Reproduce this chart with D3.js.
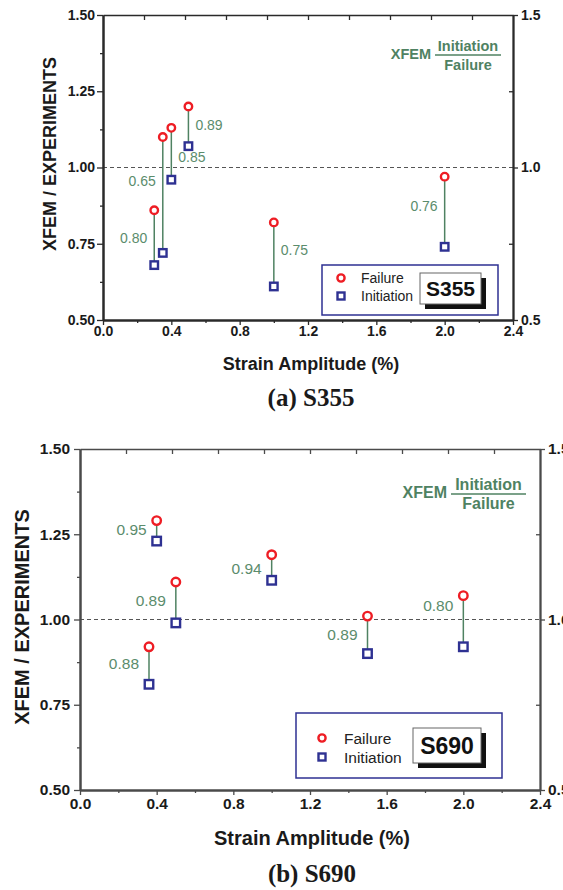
<!DOCTYPE html>
<html>
<head>
<meta charset="utf-8">
<script src="https://cdn.jsdelivr.net/npm/d3@7"></script>
<style>
body { margin: 0; background: #fff; }
text { font-family: "Liberation Sans", Arial, sans-serif; }
text.caption { font-family: "Liberation Serif", "Times New Roman", serif; }
</style>
</head>
<body>
<script>
// values
let strainS355 = [0.3, 0.35, 0.4, 0.5, 1.0, 2.0]
let failureS355 = [0.86, 1.10, 1.13, 1.20, 0.82, 0.97]
let initiationS355 = [0.68, 0.72, 0.96, 1.07, 0.61, 0.74]
let ratioS355 = ["0.80", "0.65", "0.85", "0.89", "0.75", "0.76"]
let ratioAtS355 = [0.77, 0.955, 1.035, 1.14, 0.73, 0.875]
let ratioSideS355 = ["left", "left", "right", "right", "right", "left"]

let strainS690 = [0.36, 0.4, 0.5, 1.0, 1.5, 2.0]
let failureS690 = [0.92, 1.29, 1.11, 1.19, 1.01, 1.07]
let initiationS690 = [0.81, 1.23, 0.99, 1.115, 0.90, 0.92]
let ratioS690 = ["0.88", "0.95", "0.89", "0.94", "0.89", "0.80"]
let ratioAtS690 = [0.87, 1.265, 1.055, 1.15, 0.955, 1.04]
let ratioSideS690 = ["left", "left", "left", "left", "left", "left"]

let xTicks = [0, 0.4, 0.8, 1.2, 1.6, 2.0, 2.4]
let xMinor = [0.2, 0.6, 1.0, 1.4, 1.8, 2.2]
let topTicks = [0.24, 0.48, 0.72, 0.96, 1.2, 1.44, 1.68, 1.92, 2.16]
let yTicks = [0.5, 0.75, 1.0, 1.25, 1.5]
let yMinor = [0.625, 0.875, 1.125, 1.375]
let rightTicks = [0.5, 1.0, 1.5]
let rightMinor = [0.75, 1.25]

let W = 563
let H = 890

let svg = d3.select("body").append("svg")
  .attr("width", W)
  .attr("height", H)

let red = "#ee1d24"
let blue = "#2e3192"
let green = "#4f8262"
let labelGreen = "#5b8c6c"

let drawPanel = (p)=>{
  let g = svg.append("g")
  let x = d3.scaleLinear().domain([0, 2.4]).range([p.left, p.right])
  let y = d3.scaleLinear().domain([0.5, 1.5]).range([p.bottom, p.top])

  // dashed reference line at 1.0
  g.append("line")
    .attr("x1", x(0)).attr("x2", x(2.4))
    .attr("y1", y(1)).attr("y2", y(1))
    .attr("stroke", "#555")
    .attr("stroke-width", 1.2)
    .attr("stroke-dasharray", "4,3")

  let styleAxis = (a, w)=>{
    a.select(".domain").attr("stroke", p.axisColor).attr("stroke-width", w)
    a.selectAll(".tick line").attr("stroke", p.axisColor).attr("stroke-width", 1.3)
    a.selectAll("text")
      .attr("fill", "#1a1a1a")
      .attr("font-weight", "bold")
      .attr("font-size", p.tickFont)
  }

  // top and right frame
  let topAx = g.append("g").attr("transform", "translate(0," + p.top + ")")
    .call(d3.axisTop(x).tickValues(topTicks).tickSize(-5).tickFormat("").tickSizeOuter(0))
  styleAxis(topAx, 1.6)

  let rightMinorAx = g.append("g").attr("transform", "translate(" + p.right + ",0)")
    .call(d3.axisRight(y).tickValues(rightMinor).tickSize(-4).tickFormat("").tickSizeOuter(0))
  styleAxis(rightMinorAx, 1.8)
  let rightAx = g.append("g").attr("transform", "translate(" + p.right + ",0)")
    .call(d3.axisRight(y).tickValues(rightTicks).tickSize(5).tickPadding(3).tickFormat(d3.format(".1f")).tickSizeOuter(0))
  styleAxis(rightAx, 1.8)

  // left axis
  let leftMinorAx = g.append("g").attr("transform", "translate(" + p.left + ",0)")
    .call(d3.axisLeft(y).tickValues(yMinor).tickSize(3).tickFormat("").tickSizeOuter(0))
  styleAxis(leftMinorAx, 2)
  let leftAx = g.append("g").attr("transform", "translate(" + p.left + ",0)")
    .call(d3.axisLeft(y).tickValues(yTicks).tickSize(6).tickPadding(p.tickPad).tickFormat(d3.format(".2f")).tickSizeOuter(0))
  styleAxis(leftAx, 2)

  // bottom axis
  let botMinorAx = g.append("g").attr("transform", "translate(0," + p.bottom + ")")
    .call(d3.axisBottom(x).tickValues(xMinor).tickSize(3).tickFormat("").tickSizeOuter(0))
  styleAxis(botMinorAx, 2)
  let botAx = g.append("g").attr("transform", "translate(0," + p.bottom + ")")
    .call(d3.axisBottom(x).tickValues(xTicks).tickSize(5).tickPadding(p.tickPad - 1).tickFormat(d3.format(".1f")).tickSizeOuter(0))
  styleAxis(botAx, 2)

  // axis titles
  g.append("text")
    .text("Strain Amplitude (%)")
    .attr("x", p.xTitleX)
    .attr("y", p.xTitleY)
    .attr("text-anchor", "middle")
    .attr("font-weight", "bold")
    .attr("font-size", p.titleFont)
    .attr("fill", "#1a1a1a")

  g.append("text")
    .text("XFEM / EXPERIMENTS")
    .attr("transform", "translate(" + p.yTitleX + "," + p.yTitleY + ") rotate(-90)")
    .attr("text-anchor", "middle")
    .attr("font-weight", "bold")
    .attr("font-size", p.titleFont)
    .attr("fill", "#1a1a1a")

  g.append("text")
    .attr("class", "caption")
    .text(p.caption)
    .attr("x", p.xTitleX)
    .attr("y", p.captionY)
    .attr("text-anchor", "middle")
    .attr("font-weight", "bold")
    .attr("font-size", 25)
    .attr("fill", "#1a1a1a")

  let pts = p.strain.map((s, i)=>({s: s, f: p.failure[i], n: p.initiation[i], r: p.ratio[i], at: p.ratioAt[i], side: p.ratioSide[i]}))

  // connecting stems
  g.selectAll(".stem")
    .data(pts)
    .enter()
    .append("line")
    .attr("class", "stem")
    .attr("x1", (d)=>x(d.s)).attr("x2", (d)=>x(d.s))
    .attr("y1", (d)=>y(d.f)).attr("y2", (d)=>y(d.n))
    .attr("stroke", green)
    .attr("stroke-width", 1.5)

  g.selectAll(".ratio")
    .data(pts)
    .enter()
    .append("text")
    .attr("class", "ratio")
    .text((d)=>d.r)
    .attr("x", (d)=>d.side === "left" ? x(d.s) - p.labelGap : x(d.s) + p.labelGap)
    .attr("y", (d)=>y(d.at))
    .attr("dy", "0.36em")
    .attr("text-anchor", (d)=>d.side === "left" ? "end" : "start")
    .attr("font-size", p.ratioFont)
    .attr("fill", labelGreen)

  g.selectAll(".fail")
    .data(pts)
    .enter()
    .append("circle")
    .attr("class", "fail")
    .attr("cx", (d)=>x(d.s))
    .attr("cy", (d)=>y(d.f))
    .attr("r", p.mark / 2)
    .attr("fill", "white")
    .attr("stroke", red)
    .attr("stroke-width", 2.4)

  g.selectAll(".init")
    .data(pts)
    .enter()
    .append("rect")
    .attr("class", "init")
    .attr("x", (d)=>x(d.s) - p.mark / 2)
    .attr("y", (d)=>y(d.n) - p.mark / 2)
    .attr("width", p.mark)
    .attr("height", p.mark)
    .attr("fill", "white")
    .attr("stroke", blue)
    .attr("stroke-width", 2.4)

  // XFEM Initiation / Failure note
  let n = p.note
  g.append("text")
    .text("XFEM")
    .attr("x", n.x).attr("y", n.y)
    .attr("text-anchor", "end")
    .attr("font-weight", "bold")
    .attr("font-size", p.noteFont)
    .attr("fill", green)
  g.append("line")
    .attr("x1", n.x + 4).attr("x2", n.x + 4 + n.w)
    .attr("y1", n.y - 4).attr("y2", n.y - 4)
    .attr("stroke", green)
    .attr("stroke-width", 1.3)
  g.append("text")
    .text("Initiation")
    .attr("x", n.x + 4 + n.w / 2).attr("y", n.y - 8)
    .attr("text-anchor", "middle")
    .attr("font-weight", "bold")
    .attr("font-size", p.noteFont)
    .attr("fill", green)
  g.append("text")
    .text("Failure")
    .attr("x", n.x + 4 + n.w / 2).attr("y", n.y + 10.5)
    .attr("text-anchor", "middle")
    .attr("font-weight", "bold")
    .attr("font-size", p.noteFont)
    .attr("fill", green)

  // legend
  let L = p.legend
  g.append("rect")
    .attr("x", L.x).attr("y", L.y)
    .attr("width", L.w).attr("height", L.h)
    .attr("fill", "white")
    .attr("stroke", blue)
    .attr("stroke-width", 1.5)
  g.append("circle")
    .attr("cx", L.mx).attr("cy", L.y1)
    .attr("r", 3.6)
    .attr("fill", "white")
    .attr("stroke", red)
    .attr("stroke-width", 2.4)
  g.append("rect")
    .attr("x", L.mx - 3.5).attr("y", L.y2 - 3.5)
    .attr("width", 7).attr("height", 7)
    .attr("fill", "white")
    .attr("stroke", blue)
    .attr("stroke-width", 2.4)
  g.append("text")
    .text("Failure")
    .attr("x", L.tx).attr("y", L.y1).attr("dy", "0.36em")
    .attr("font-size", L.font)
    .attr("fill", "#222")
  g.append("text")
    .text("Initiation")
    .attr("x", L.tx).attr("y", L.y2).attr("dy", "0.36em")
    .attr("font-size", L.font)
    .attr("fill", "#222")

  let B = p.badge
  g.append("rect")
    .attr("x", B.x + 5).attr("y", B.y + 5)
    .attr("width", B.w).attr("height", B.h)
    .attr("fill", "#111")
  g.append("rect")
    .attr("x", B.x).attr("y", B.y)
    .attr("width", B.w).attr("height", B.h)
    .attr("fill", "white")
    .attr("stroke", "#666")
    .attr("stroke-width", 1)
  g.append("text")
    .text(p.steel)
    .attr("x", B.x + B.w / 2).attr("y", B.y + B.h / 2).attr("dy", "0.36em")
    .attr("text-anchor", "middle")
    .attr("font-weight", "bold")
    .attr("font-size", B.font)
    .attr("fill", "#111")
}

drawPanel({
  left: 103, right: 513, top: 15, bottom: 320,
  axisColor: "#2a2a2a", tickFont: 14, tickPad: 2,
  titleFont: 18, xTitleX: 311, xTitleY: 370, yTitleX: 56, yTitleY: 154,
  caption: "(a) S355", captionY: 406,
  strain: strainS355, failure: failureS355, initiation: initiationS355,
  ratio: ratioS355, ratioAt: ratioAtS355, ratioSide: ratioSideS355,
  labelGap: 7, ratioFont: 14, mark: 7.5,
  note: {x: 431, y: 59, w: 66}, noteFont: 14.5,
  legend: {x: 322, y: 265, w: 176, h: 50, mx: 341, y1: 278, y2: 296, tx: 361, font: 14},
  badge: {x: 420, y: 273, w: 61, h: 31, font: 21},
  steel: "S355"
})

drawPanel({
  left: 80, right: 540, top: 449, bottom: 790,
  axisColor: "#4a4a4a", tickFont: 15.5, tickPad: 4,
  titleFont: 20, xTitleX: 312, xTitleY: 845, yTitleX: 29, yTitleY: 617,
  caption: "(b) S690", captionY: 882,
  strain: strainS690, failure: failureS690, initiation: initiationS690,
  ratio: ratioS690, ratioAt: ratioAtS690, ratioSide: ratioSideS690,
  labelGap: 10, ratioFont: 15.5, mark: 8.5,
  note: {x: 447, y: 498, w: 75}, noteFont: 16,
  legend: {x: 296, y: 713, w: 206, h: 65, mx: 322, y1: 738, y2: 757, tx: 344, font: 15.5},
  badge: {x: 413, y: 728, w: 68, h: 35, font: 23},
  steel: "S690"
})
</script>
</body>
</html>
